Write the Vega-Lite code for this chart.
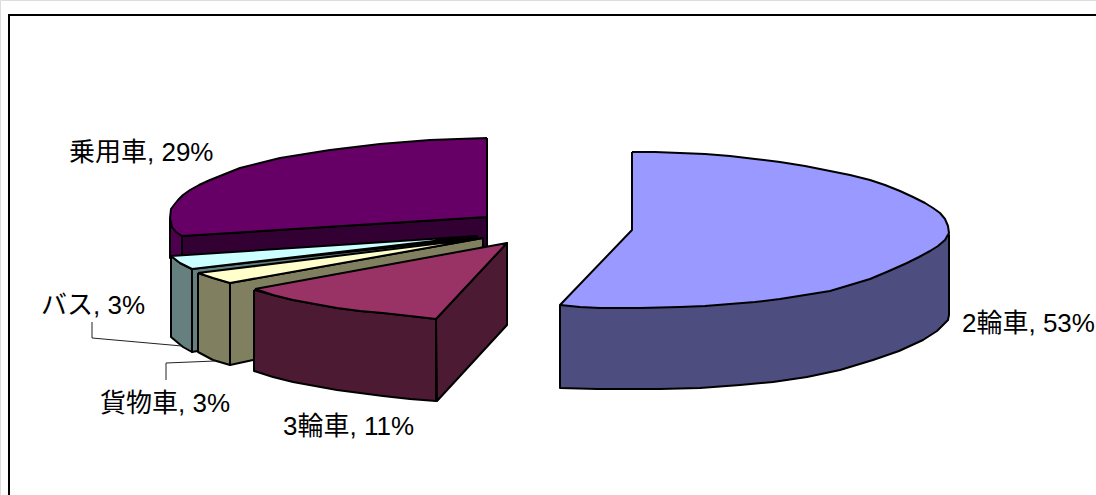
{
"$schema":"https://vega.github.io/schema/vega-lite/v6.json",
"width":1096,"height":495,"autosize":{"type":"fit","contains":"padding"},"padding":0,
"background":"white",
"datasets":{
"faces":[
{"face":"乗用車 外側面","i":1,"x":170,"y":218},{"face":"乗用車 外側面","i":2,"x":172,"y":227},{"face":"乗用車 外側面","i":3,"x":182,"y":236},{"face":"乗用車 外側面","i":4,"x":182,"y":258},{"face":"乗用車 外側面","i":5,"x":170,"y":258},{"face":"乗用車 外側面","i":6,"x":170,"y":218},
{"face":"乗用車 断面","i":1,"x":182,"y":236},{"face":"乗用車 断面","i":2,"x":487,"y":217},{"face":"乗用車 断面","i":3,"x":487,"y":250},{"face":"乗用車 断面","i":4,"x":182,"y":258},{"face":"乗用車 断面","i":5,"x":182,"y":236},
{"face":"乗用車 上面","i":1,"x":487,"y":138},{"face":"乗用車 上面","i":2,"x":458,"y":139},{"face":"乗用車 上面","i":3,"x":430,"y":140},{"face":"乗用車 上面","i":4,"x":405,"y":142},{"face":"乗用車 上面","i":5,"x":380,"y":144},{"face":"乗用車 上面","i":6,"x":355,"y":147},{"face":"乗用車 上面","i":7,"x":330,"y":150},{"face":"乗用車 上面","i":8,"x":305,"y":154},{"face":"乗用車 上面","i":9,"x":280,"y":158},{"face":"乗用車 上面","i":10,"x":260,"y":163},{"face":"乗用車 上面","i":11,"x":240,"y":168},{"face":"乗用車 上面","i":12,"x":225,"y":174},{"face":"乗用車 上面","i":13,"x":210,"y":180},{"face":"乗用車 上面","i":14,"x":199,"y":185},{"face":"乗用車 上面","i":15,"x":190,"y":190},{"face":"乗用車 上面","i":16,"x":183,"y":195},{"face":"乗用車 上面","i":17,"x":178,"y":200},{"face":"乗用車 上面","i":18,"x":174,"y":205},{"face":"乗用車 上面","i":19,"x":171,"y":209},{"face":"乗用車 上面","i":20,"x":170,"y":218},{"face":"乗用車 上面","i":21,"x":172,"y":227},{"face":"乗用車 上面","i":22,"x":176,"y":232},{"face":"乗用車 上面","i":23,"x":182,"y":236},{"face":"乗用車 上面","i":24,"x":487,"y":217},{"face":"乗用車 上面","i":25,"x":487,"y":138},
{"face":"バス 断面","i":1,"x":192,"y":269},{"face":"バス 断面","i":2,"x":477,"y":238},{"face":"バス 断面","i":3,"x":477,"y":300},{"face":"バス 断面","i":4,"x":192,"y":352},{"face":"バス 断面","i":5,"x":192,"y":269},
{"face":"バス 外側面","i":1,"x":171,"y":256},{"face":"バス 外側面","i":2,"x":180,"y":263},{"face":"バス 外側面","i":3,"x":192,"y":269},{"face":"バス 外側面","i":4,"x":192,"y":352},{"face":"バス 外側面","i":5,"x":183,"y":347},{"face":"バス 外側面","i":6,"x":171,"y":337},{"face":"バス 外側面","i":7,"x":171,"y":256},
{"face":"バス 上面","i":1,"x":171,"y":256},{"face":"バス 上面","i":2,"x":477,"y":236},{"face":"バス 上面","i":3,"x":192,"y":269},{"face":"バス 上面","i":4,"x":180,"y":263},{"face":"バス 上面","i":5,"x":171,"y":256},
{"face":"貨物車 断面","i":1,"x":230,"y":283},{"face":"貨物車 断面","i":2,"x":483,"y":238},{"face":"貨物車 断面","i":3,"x":483,"y":247},{"face":"貨物車 断面","i":4,"x":253,"y":360},{"face":"貨物車 断面","i":5,"x":230,"y":365},{"face":"貨物車 断面","i":6,"x":230,"y":283},
{"face":"貨物車 外側面","i":1,"x":198,"y":273},{"face":"貨物車 外側面","i":2,"x":213,"y":278},{"face":"貨物車 外側面","i":3,"x":230,"y":283},{"face":"貨物車 外側面","i":4,"x":230,"y":365},{"face":"貨物車 外側面","i":5,"x":213,"y":360},{"face":"貨物車 外側面","i":6,"x":198,"y":352},{"face":"貨物車 外側面","i":7,"x":198,"y":273},
{"face":"貨物車 上面","i":1,"x":198,"y":273},{"face":"貨物車 上面","i":2,"x":483,"y":238},{"face":"貨物車 上面","i":3,"x":230,"y":283},{"face":"貨物車 上面","i":4,"x":213,"y":278},{"face":"貨物車 上面","i":5,"x":198,"y":273},
{"face":"3輪車 断面","i":1,"x":436,"y":319},{"face":"3輪車 断面","i":2,"x":507,"y":243},{"face":"3輪車 断面","i":3,"x":507,"y":325},{"face":"3輪車 断面","i":4,"x":437,"y":401},{"face":"3輪車 断面","i":5,"x":436,"y":319},
{"face":"3輪車 外側面","i":1,"x":254,"y":290},{"face":"3輪車 外側面","i":2,"x":273,"y":295},{"face":"3輪車 外側面","i":3,"x":293,"y":300},{"face":"3輪車 外側面","i":4,"x":315,"y":304},{"face":"3輪車 外側面","i":5,"x":337,"y":308},{"face":"3輪車 外側面","i":6,"x":360,"y":311},{"face":"3輪車 外側面","i":7,"x":383,"y":313},{"face":"3輪車 外側面","i":8,"x":410,"y":316},{"face":"3輪車 外側面","i":9,"x":436,"y":319},{"face":"3輪車 外側面","i":10,"x":436,"y":401},{"face":"3輪車 外側面","i":11,"x":410,"y":399},{"face":"3輪車 外側面","i":12,"x":383,"y":396},{"face":"3輪車 外側面","i":13,"x":360,"y":393},{"face":"3輪車 外側面","i":14,"x":337,"y":390},{"face":"3輪車 外側面","i":15,"x":315,"y":386},{"face":"3輪車 外側面","i":16,"x":293,"y":382},{"face":"3輪車 外側面","i":17,"x":273,"y":377},{"face":"3輪車 外側面","i":18,"x":254,"y":371},{"face":"3輪車 外側面","i":19,"x":254,"y":290},
{"face":"3輪車 上面","i":1,"x":255,"y":289},{"face":"3輪車 上面","i":2,"x":507,"y":243},{"face":"3輪車 上面","i":3,"x":436,"y":319},{"face":"3輪車 上面","i":4,"x":410,"y":316},{"face":"3輪車 上面","i":5,"x":383,"y":313},{"face":"3輪車 上面","i":6,"x":360,"y":311},{"face":"3輪車 上面","i":7,"x":337,"y":308},{"face":"3輪車 上面","i":8,"x":315,"y":304},{"face":"3輪車 上面","i":9,"x":293,"y":300},{"face":"3輪車 上面","i":10,"x":273,"y":295},{"face":"3輪車 上面","i":11,"x":255,"y":289},
{"face":"2輪車 外側面","i":1,"x":560,"y":305},{"face":"2輪車 外側面","i":2,"x":949,"y":235},{"face":"2輪車 外側面","i":3,"x":949,"y":315},{"face":"2輪車 外側面","i":4,"x":948,"y":320},{"face":"2輪車 外側面","i":5,"x":937,"y":331},{"face":"2輪車 外側面","i":6,"x":923,"y":340},{"face":"2輪車 外側面","i":7,"x":899,"y":351},{"face":"2輪車 外側面","i":8,"x":873,"y":360},{"face":"2輪車 外側面","i":9,"x":840,"y":370},{"face":"2輪車 外側面","i":10,"x":807,"y":377},{"face":"2輪車 外側面","i":11,"x":773,"y":382},{"face":"2輪車 外側面","i":12,"x":740,"y":385},{"face":"2輪車 外側面","i":13,"x":700,"y":388},{"face":"2輪車 外側面","i":14,"x":660,"y":389},{"face":"2輪車 外側面","i":15,"x":597,"y":389},{"face":"2輪車 外側面","i":16,"x":560,"y":388},{"face":"2輪車 外側面","i":17,"x":560,"y":305},
{"face":"2輪車 上面","i":1,"x":632,"y":152},{"face":"2輪車 上面","i":2,"x":655,"y":152},{"face":"2輪車 上面","i":3,"x":680,"y":153},{"face":"2輪車 上面","i":4,"x":705,"y":154},{"face":"2輪車 上面","i":5,"x":730,"y":156},{"face":"2輪車 上面","i":6,"x":755,"y":159},{"face":"2輪車 上面","i":7,"x":780,"y":162},{"face":"2輪車 上面","i":8,"x":805,"y":166},{"face":"2輪車 上面","i":9,"x":830,"y":171},{"face":"2輪車 上面","i":10,"x":850,"y":175},{"face":"2輪車 上面","i":11,"x":870,"y":180},{"face":"2輪車 上面","i":12,"x":885,"y":185},{"face":"2輪車 上面","i":13,"x":900,"y":191},{"face":"2輪車 上面","i":14,"x":913,"y":197},{"face":"2輪車 上面","i":15,"x":925,"y":203},{"face":"2輪車 上面","i":16,"x":933,"y":208},{"face":"2輪車 上面","i":17,"x":940,"y":213},{"face":"2輪車 上面","i":18,"x":945,"y":219},{"face":"2輪車 上面","i":19,"x":948,"y":226},{"face":"2輪車 上面","i":20,"x":949,"y":233},{"face":"2輪車 上面","i":21,"x":945,"y":240},{"face":"2輪車 上面","i":22,"x":938,"y":246},{"face":"2輪車 上面","i":23,"x":930,"y":251},{"face":"2輪車 上面","i":24,"x":919,"y":257},{"face":"2輪車 上面","i":25,"x":907,"y":263},{"face":"2輪車 上面","i":26,"x":889,"y":271},{"face":"2輪車 上面","i":27,"x":870,"y":279},{"face":"2輪車 上面","i":28,"x":850,"y":285},{"face":"2輪車 上面","i":29,"x":830,"y":291},{"face":"2輪車 上面","i":30,"x":805,"y":295},{"face":"2輪車 上面","i":31,"x":780,"y":299},{"face":"2輪車 上面","i":32,"x":755,"y":302},{"face":"2輪車 上面","i":33,"x":730,"y":304},{"face":"2輪車 上面","i":34,"x":705,"y":306},{"face":"2輪車 上面","i":35,"x":680,"y":307},{"face":"2輪車 上面","i":36,"x":640,"y":308},{"face":"2輪車 上面","i":37,"x":600,"y":308},{"face":"2輪車 上面","i":38,"x":580,"y":307},{"face":"2輪車 上面","i":39,"x":560,"y":305},{"face":"2輪車 上面","i":40,"x":632,"y":230},{"face":"2輪車 上面","i":41,"x":632,"y":152}
],
"leaders":[
{"name":"バス","i":1,"x":92,"y":322},{"name":"バス","i":2,"x":92,"y":338},{"name":"バス","i":3,"x":182,"y":346},
{"name":"貨物車","i":1,"x":166,"y":380},{"name":"貨物車","i":2,"x":166,"y":363},{"name":"貨物車","i":3,"x":215,"y":361}
],
"frame":[{"i":1,"x":1096,"y":15},{"i":2,"x":9,"y":15},{"i":3,"x":9,"y":495}],
"labels":[
{"label":"乗用車, 29%","x":69,"y":153},
{"label":"バス, 3%","x":41,"y":306},
{"label":"貨物車, 3%","x":100,"y":404},
{"label":"3輪車, 11%","x":283,"y":427},
{"label":"2輪車, 53%","x":962,"y":324}
]
},
"encoding":{
"x":{"field":"x","type":"quantitative","axis":null,"scale":{"domain":[0,1096],"nice":false,"zero":false}},
"y":{"field":"y","type":"quantitative","axis":null,"scale":{"domain":[495,0],"nice":false,"zero":false}}
},
"layer":[
{"data":{"name":"frame"},"mark":{"type":"line","clip":true,"stroke":"#000000","strokeWidth":2,"strokeJoin":"miter"},"encoding":{"order":{"field":"i"}}},
{"data":{"name":"faces"},"mark":{"type":"line","stroke":"#000000","strokeWidth":2,"strokeJoin":"round"},
"encoding":{"order":{"field":"i"},"detail":{"field":"face"},"fill":{"field":"face","type":"nominal","legend":null,"scale":{
"domain":["乗用車 外側面","乗用車 断面","乗用車 上面","バス 断面","バス 外側面","バス 上面","貨物車 断面","貨物車 外側面","貨物車 上面","3輪車 断面","3輪車 外側面","3輪車 上面","2輪車 外側面","2輪車 上面"],
"range":["#4d004d","#330033","#660066","#668080","#668080","#ccffff","#808060","#808060","#ffffcc","#4d1a33","#4d1a33","#993366","#4d4d80","#9999ff"]}}}},
{"data":{"name":"leaders"},"mark":{"type":"line","stroke":"#222222","strokeWidth":1},"encoding":{"order":{"field":"i"},"detail":{"field":"name"}}},
{"data":{"name":"labels"},"mark":{"type":"text","clip":true,"align":"left","baseline":"middle","font":"Liberation Sans, Noto Sans CJK JP","fontSize":26,"color":"#000000"},"encoding":{"text":{"field":"label"}}}
]
}
